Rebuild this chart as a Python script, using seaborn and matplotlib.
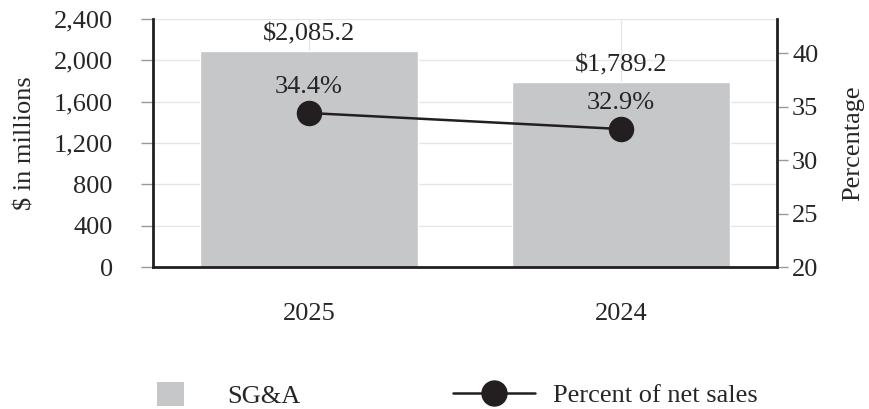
import matplotlib
matplotlib.use("Agg")
import matplotlib.pyplot as plt
import seaborn as sns
import pandas as pd
from matplotlib.patches import Patch
from matplotlib.lines import Line2D

years = ["2025", "2024"]
sga = [2085.2, 1789.2]
pct = [34.4, 32.9]
sga_labels = ["$2,085.2", "$1,789.2"]
pct_labels = ["34.4%", "32.9%"]

df = pd.DataFrame({"year": years, "sga": sga, "pct": pct})

sns.set_style("white")
plt.rcParams["font.family"] = ["Liberation Serif", "DejaVu Serif"]
plt.rcParams["font.size"] = 19

bar_color = "#c6c7c9"
grid_color = "#e6e6e6"
dark = "#231f20"

fig = plt.figure(figsize=(8.69, 4.09), dpi=100)
ax = fig.add_axes([0.176, 0.347, 0.718, 0.607])

sns.barplot(data=df, x="year", y="sga", order=years, color=bar_color, width=0.7,
            saturation=1, ax=ax, zorder=2)
ax.set_xlim(-0.5, 1.5)
ax.set_ylim(0, 2400)
ax.set_yticks(range(0, 2401, 400))
ax.set_yticklabels([f"{v:,}" for v in range(0, 2401, 400)])
ax.grid(True, color=grid_color, linewidth=1, zorder=0)
ax.set_axisbelow(True)
ax.set_xlabel("")
ax.set_ylabel("$ in millions", labelpad=12)
ax.tick_params(axis="y", length=9, color="#999999", width=1, pad=20)
ax.tick_params(axis="x", length=8, color="#999999", width=1, pad=18)
for s in ["top", "right"]:
    ax.spines[s].set_visible(False)
for s in ["left", "bottom"]:
    ax.spines[s].set_linewidth(2)
    ax.spines[s].set_color(dark)

for i, lab in enumerate(sga_labels):
    ax.text(i, sga[i] + 55, lab, ha="center", va="bottom", fontsize=19)

ax2 = ax.twinx()
sns.pointplot(data=df, x="year", y="pct", order=years, color=dark, ax=ax2,
              markersize=17, linewidth=1.8, zorder=5)
ax2.set_xlim(-0.5, 1.5)
ax2.set_ylim(20, 43.2)
ax2.set_yticks([20, 25, 30, 35, 40])
ax2.set_xlabel("")
ax2.set_ylabel("Percentage", labelpad=17)
ax2.tick_params(axis="y", length=8, color="#999999", width=1, pad=3)
for s in ["top", "left", "bottom"]:
    ax2.spines[s].set_visible(False)
ax2.spines["right"].set_linewidth(2)
ax2.spines["right"].set_color(dark)

for i, lab in enumerate(pct_labels):
    ax2.text(i, pct[i] + 1.4, lab, ha="center", va="bottom", fontsize=19)

leg1 = fig.legend(handles=[Patch(facecolor=bar_color, edgecolor="none", label="SG&A")],
                  loc="center left", bbox_to_anchor=(0.1807, 0.034), frameon=False,
                  borderpad=0, borderaxespad=0, handlelength=1.02, handleheight=1.05,
                  handletextpad=1.63, fontsize=19)
leg2 = fig.legend(handles=[Line2D([0], [0], color=dark, marker="o", markersize=18,
                                  linewidth=1.8, label="Percent of net sales")],
                  loc="center left", bbox_to_anchor=(0.5213, 0.034), frameon=False,
                  borderpad=0, borderaxespad=0, handlelength=3.1,
                  handletextpad=0.68, fontsize=19)

fig.savefig("out.png", dpi=100)
